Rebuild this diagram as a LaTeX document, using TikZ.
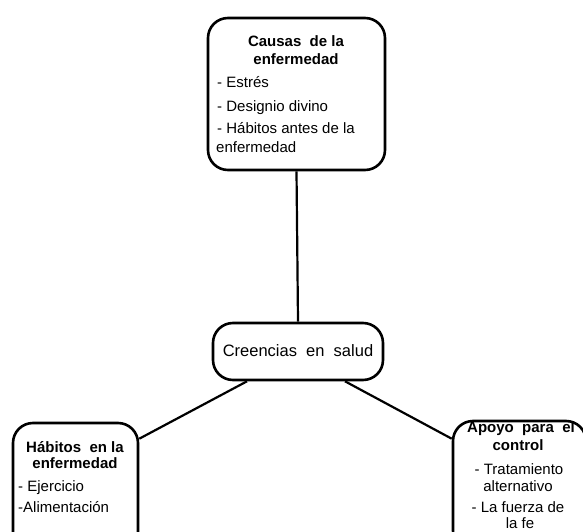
\documentclass[tikz,border=0pt]{standalone}
\usepackage{fontspec}
\setmainfont{Liberation Sans}
\usetikzlibrary{calc}
\tikzset{
  box/.style={draw=black, line width=2.6pt, rounded corners=20pt, fill=white, inner sep=0pt},
  conn/.style={draw=black, line width=2.2pt},
  ttl/.style={font=\fontsize{15}{18}\selectfont\bfseries, anchor=base, inner sep=0pt},
  itm/.style={font=\fontsize{15}{18}\selectfont, anchor=base west, inner sep=0pt},
  itc/.style={font=\fontsize{15}{18}\selectfont, anchor=base, inner sep=0pt},
}
\begin{document}
\begin{tikzpicture}[x=1pt,y=-1pt]
\useasboundingbox (0,0) rectangle (583,532);
\clip (0,0) rectangle (583,532);
% boxes
\node[box, minimum width=177pt, minimum height=152pt] (causas) at (296.5,94) {};
\node[box, minimum width=170pt, minimum height=57pt] (creencias) at (298,351.5) {};
\node[box, minimum width=125pt, minimum height=130pt] (habitos) at (75.5,488) {};
\node[box, minimum width=133pt, minimum height=130pt] (apoyo) at (519.5,486) {};
% connectors
\draw[conn] (causas.south) -- (creencias.north);
\draw[conn] ($(habitos.north east)+(0,17)$) -- ($(creencias.south)+(-51,0)$);
\draw[conn] ($(apoyo.north west)+(0,19)$) -- ($(creencias.south)+(47,0)$);
% texts: causas
\node[ttl] (c1) at (296,47) {Causas\ \ de la};
\node[ttl] (c2) at (296,65) {enfermedad};
\node[itm] (c3) at (217,88) {- Estrés};
\node[itm] (c4) at (217,111) {- Designio divino};
\node[itm] (c5) at (217,133) {- Hábitos antes de la};
\node[itm] (c6) at (216,152) {enfermedad};
% creencias
\node[font=\fontsize{16.5}{19}\selectfont, anchor=base, inner sep=0pt] (cr) at (298,356) {Creencias\ \ en\ \ salud};
% habitos
\node[ttl] (h1) at (75,452) {Hábitos\ \ en la};
\node[ttl] (h2) at (75,468) {enfermedad};
\node[itm] (h3) at (18,491) {- Ejercicio};
\node[itm] (h4) at (18,512) {-Alimentación};
% apoyo
\node[ttl] (a1) at (521,432) {Apoyo\ \ para\ \ el};
\node[ttl] (a2) at (518,450) {control};
\node[itc] (a3) at (519,474) {- Tratamiento};
\node[itc] (a4) at (518,491) {alternativo};
\node[itc] (a5) at (518,512) {- La fuerza de};
\node[itc] (a6) at (520,528.5) {la fe};
\end{tikzpicture}
\end{document}
